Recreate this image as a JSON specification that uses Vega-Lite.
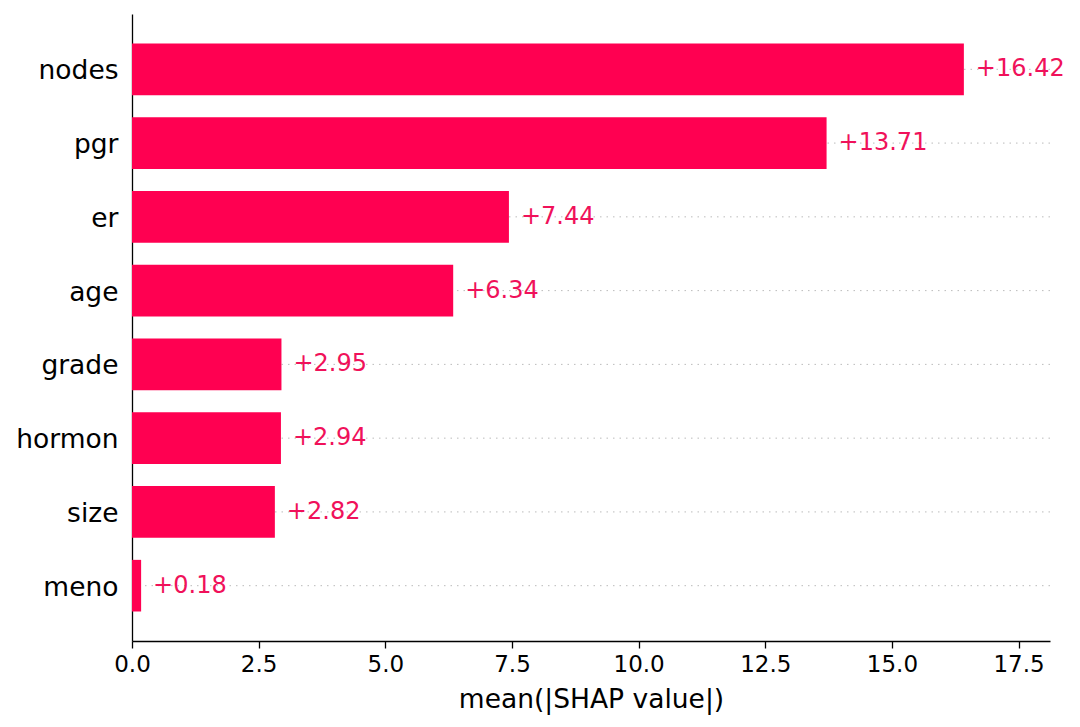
{
  "$schema": "https://vega.github.io/schema/vega-lite/v6.json",
  "width": 918,
  "height": 627,
  "autosize": {"type": "none"},
  "padding": {"left": 132, "top": 14, "right": 30, "bottom": 86},
  "background": "white",
  "config": {
    "font": "DejaVu Sans",
    "view": {"stroke": null}
  },
  "data": {
    "values": [
      {"feature": "nodes", "value": 16.42, "label": "+16.42"},
      {"feature": "pgr", "value": 13.71, "label": "+13.71"},
      {"feature": "er", "value": 7.44, "label": "+7.44"},
      {"feature": "age", "value": 6.34, "label": "+6.34"},
      {"feature": "grade", "value": 2.95, "label": "+2.95"},
      {"feature": "hormon", "value": 2.94, "label": "+2.94"},
      {"feature": "size", "value": 2.82, "label": "+2.82"},
      {"feature": "meno", "value": 0.18, "label": "+0.18"}
    ]
  },
  "encoding": {
    "y": {
      "field": "feature",
      "type": "nominal",
      "sort": ["nodes", "pgr", "er", "age", "grade", "hormon", "size", "meno"],
      "scale": {"paddingInner": 0.3, "paddingOuter": 0.4},
      "axis": {
        "title": null,
        "ticks": false,
        "labelFontSize": 26.5,
        "labelColor": "black",
        "labelPadding": 14,
        "labelOffset": 2,
        "domainColor": "black",
        "domainWidth": 1.3,
        "grid": false
      }
    }
  },
  "layer": [
    {
      "mark": {"type": "rule", "color": "#bbbbbb", "strokeWidth": 1, "strokeDash": [1.5, 5]},
      "encoding": {}
    },
    {
      "mark": {"type": "bar", "color": "#ff0051"},
      "encoding": {
        "x": {
          "field": "value",
          "type": "quantitative",
          "scale": {"domain": [0, 18.12], "nice": false, "zero": true},
          "axis": {
            "title": "mean(|SHAP value|)",
            "titleFontSize": 26.5,
            "titleFontWeight": "normal",
            "titleColor": "black",
            "titlePadding": 10,
            "values": [0, 2.5, 5, 7.5, 10, 12.5, 15, 17.5],
            "format": ".1f",
            "labelFontSize": 23,
            "labelColor": "black",
            "labelPadding": 5,
            "labelFlush": false,
            "tickColor": "black",
            "tickSize": 7,
            "tickWidth": 1.3,
            "domainColor": "black",
            "domainWidth": 1.3,
            "grid": false
          }
        }
      }
    },
    {
      "mark": {"type": "text", "color": "#f0115a", "align": "left", "baseline": "middle", "dx": 12, "fontSize": 24},
      "encoding": {
        "x": {"field": "value", "type": "quantitative"},
        "text": {"field": "label"}
      }
    }
  ]
}
